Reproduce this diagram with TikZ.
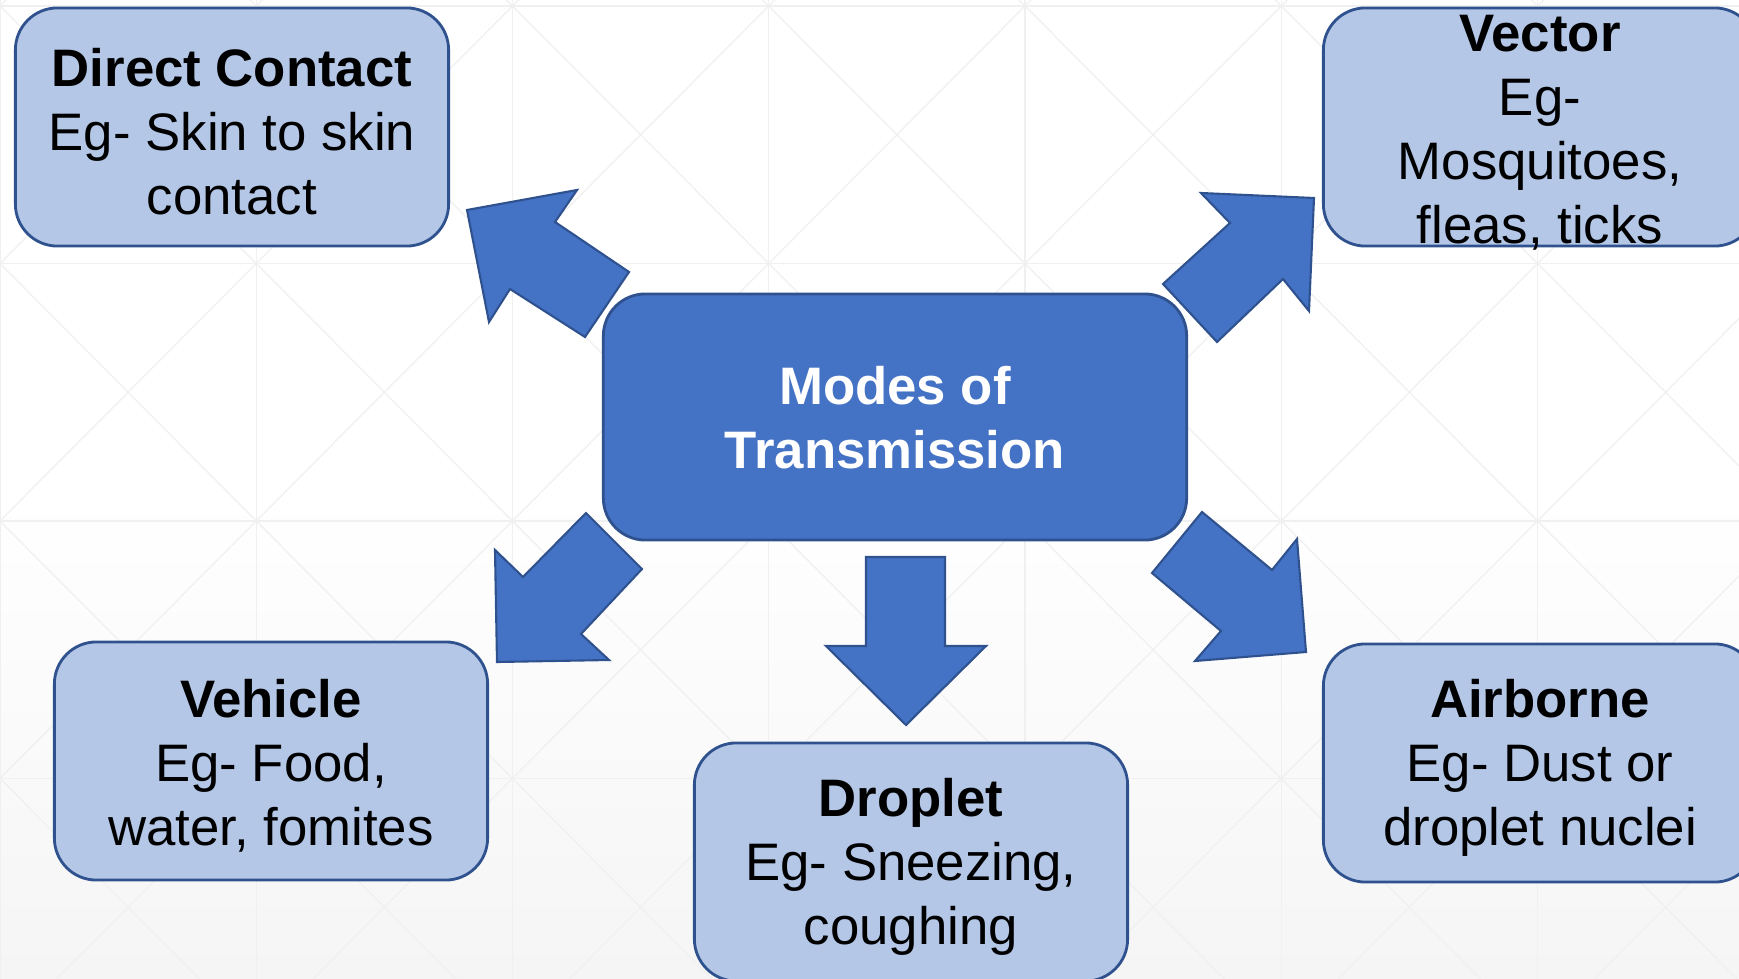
\documentclass[tikz,border=0pt]{standalone}
\usepackage{fontspec}
\setmainfont{Liberation Sans}
\definecolor{darkblue}{HTML}{4472C4}
\definecolor{edgeblue}{HTML}{2F528F}
\definecolor{lightblue}{HTML}{B4C7E7}
\definecolor{gridgray}{HTML}{F0F0F0}
\definecolor{bgbottom}{HTML}{F5F5F5}
\begin{document}
\begin{tikzpicture}[x=0.01cm,y=-0.01cm,
  outerbox/.style={draw=edgeblue, line width=0.8pt, fill=lightblue, rounded corners=0.42cm, minimum width=4.33cm, minimum height=2.38cm, inner sep=0pt},
  centerbox/.style={draw=edgeblue, line width=0.8pt, fill=darkblue, rounded corners=0.42cm, minimum width=5.83cm, minimum height=2.46cm, inner sep=0pt},
  boxtext/.style={align=center, font=\fontsize{15}{18.2}\selectfont, text=black, inner sep=0pt, yshift=-0.05cm},
  centertext/.style={align=center, font=\bfseries\fontsize{15}{18.2}\selectfont, text=white, inner sep=0pt, yshift=-0.01cm},
  blockarrow/.style={draw=edgeblue, line width=0.6pt, fill=darkblue, line join=miter},
  gridline/.style={draw=gridgray, line width=0.35pt}
]
% background
\path[use as bounding box, fill=white] (0,0) rectangle (1739,979);
\shade[top color=white, bottom color=bgbottom] (0,490) rectangle (1739,979);
\begin{scope}
  \clip (0,0) rectangle (1739,979);
  \foreach \i in {0,...,6} \draw[gridline] ({\i*256.25},0) -- ({\i*256.25},979);
  \foreach \j in {0,...,3} \draw[gridline] (0,{6+\j*257.5}) -- (1739,{6+\j*257.5});
  \foreach \i in {0,...,6} {
    \foreach \j in {-1,...,3} {
      \draw[gridline] ({\i*256.25},{6+\j*257.5}) -- ({(\i+1)*256.25},{6+(\j+1)*257.5});
      \draw[gridline] ({(\i+1)*256.25},{6+\j*257.5}) -- ({\i*256.25},{6+(\j+1)*257.5});
    }
  }
\end{scope}
% block arrows
\draw[blockarrow] (467,210) -- (577,190) -- (555,222) -- (629,272) -- (585,337) -- (510,289) -- (489,322) -- cycle;
\draw[blockarrow] (1314,198) -- (1201,193) -- (1230,223) -- (1163,284) -- (1217,342) -- (1283,279) -- (1309,311) -- cycle;
\draw[blockarrow] (586,513) -- (642,569) -- (581,634) -- (609,660) -- (497,662) -- (495,550) -- (523,577) -- cycle;
\draw[blockarrow] (866,557) -- (945,557) -- (945,646) -- (986,646) -- (906,725) -- (826,646) -- (866,646) -- cycle;
\draw[blockarrow] (1202,512) -- (1272,570) -- (1297,539) -- (1306,652) -- (1195,661) -- (1221,631) -- (1152,573) -- cycle;
% boxes
\node[centerbox] (mt) at (895,417) {};
\node[centertext] (mtt) at (mt) {Modes of\\Transmission};
\node[outerbox] (dc) at (232,127) {};
\node[boxtext] (dct) at (dc) {\textbf{Direct Contact}\\Eg- Skin to skin\\contact};
\node[outerbox] (vec) at (1540,127) {};
\node[boxtext, yshift=-0.01cm] (vect) at (vec) {\textbf{Vector}\\Eg-\\Mosquitoes,\\fleas, ticks};
\node[outerbox] (veh) at (271,761) {};
\node[boxtext] (veht) at (veh) {\textbf{Vehicle}\\Eg- Food,\\water, fomites};
\node[outerbox] (dro) at (911,862) {};
\node[boxtext] (drot) at (dro) {\textbf{Droplet}\\Eg- Sneezing,\\coughing};
\node[outerbox] (air) at (1540,763) {};
\node[boxtext] (airt) at (air) {\textbf{Airborne}\\Eg- Dust or\\droplet nuclei};
\end{tikzpicture}
\end{document}
